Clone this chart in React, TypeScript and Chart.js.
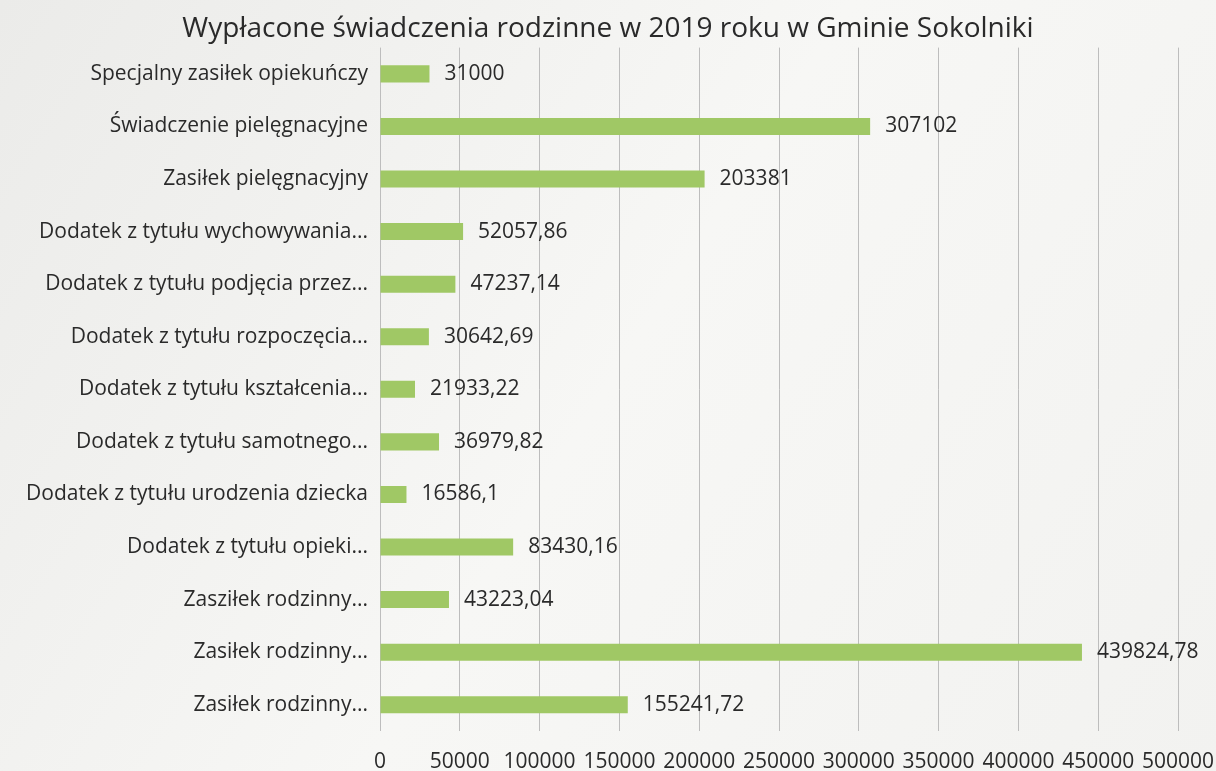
import React, { useEffect, useRef } from "react";
import { Chart, registerables } from "chart.js";

Chart.register(...registerables);

const categories = [
  "Specjalny zasiłek opiekuńczy",
  "Świadczenie pielęgnacyjne",
  "Zasiłek pielęgnacyjny",
  "Dodatek z tytułu wychowywania...",
  "Dodatek z tytułu podjęcia przez...",
  "Dodatek z tytułu rozpoczęcia...",
  "Dodatek z tytułu kształcenia...",
  "Dodatek z tytułu samotnego...",
  "Dodatek z tytułu urodzenia dziecka",
  "Dodatek z tytułu opieki...",
  "Zasziłek rodzinny...",
  "Zasiłek rodzinny...",
  "Zasiłek rodzinny...",
];

const values = [
  31000, 307102, 203381, 52057.86, 47237.14, 30642.69, 21933.22, 36979.82,
  16586.1, 83430.16, 43223.04, 439824.78, 155241.72,
];

const valueLabels = [
  "31000", "307102", "203381", "52057,86", "47237,14", "30642,69", "21933,22",
  "36979,82", "16586,1", "83430,16", "43223,04", "439824,78", "155241,72",
];

const tickValues = [0, 50000, 100000, 150000, 200000, 250000, 300000, 350000, 400000, 450000, 500000];

const titleText = "Wypłacone świadczenia rodzinne w 2019 roku w Gminie Sokolniki";

const FONT = "'Open Sans', Lato, sans-serif";

const labelPlugin = {
  id: "valueLabels",
  afterDatasetsDraw(chart: any) {
    const ctx = chart.ctx;
    const meta = chart.getDatasetMeta(0);
    ctx.save();
    ctx.font = `21px ${FONT}`;
    ctx.fillStyle = "#2a2a2a";
    ctx.textAlign = "left";
    ctx.textBaseline = "middle";
    meta.data.forEach((bar: any, i: number) => {
      ctx.fillText(valueLabels[i], bar.x + 15, bar.y);
    });
    ctx.restore();
  },
};

const bgPlugin = {
  id: "bg",
  beforeDraw(chart: any) {
    const ctx = chart.ctx;
    ctx.save();
    const g = ctx.createLinearGradient(0, 0, chart.width, chart.height);
    g.addColorStop(0, "#ebebe9");
    g.addColorStop(0.5, "#f7f7f5");
    g.addColorStop(1, "#f2f2f0");
    ctx.fillStyle = g;
    ctx.fillRect(0, 0, chart.width, chart.height);
    ctx.restore();
  },
};

export default function App() {
  const ref = useRef<HTMLCanvasElement>(null);
  useEffect(() => {
    document.body.style.margin = "0";
    const chart = new Chart(ref.current!, {
      type: "bar",
      data: {
        labels: categories,
        datasets: [
          {
            data: values,
            backgroundColor: "#a0c865",
            borderWidth: 0,
            barPercentage: 0.6,
            categoryPercentage: 0.54,
          },
        ],
      },
      options: {
        indexAxis: "y",
        animation: false,
        responsive: false,
        layout: { padding: { top: 0, right: 0, bottom: 0, left: 0 } },
        plugins: {
          legend: { display: false },
          tooltip: { enabled: false },
          title: {
            display: true,
            text: titleText,
            color: "#2a2a2a",
            font: { family: FONT, size: 28, weight: "normal", lineHeight: 1.2 },
            padding: { top: 12, bottom: 2 },
          },
        },
        scales: {
          x: {
            min: 0,
            max: 500000,
            afterBuildTicks: (s: any) => {
              s.ticks = tickValues.map((v) => ({ value: v }));
            },
            afterFit: (s: any) => {
              s.paddingRight = 38;
              s.height = 40;
            },
            grid: { color: "#bdbdbd", drawTicks: false },
            border: { display: false },
            ticks: {
              color: "#2a2a2a",
              font: { family: FONT, size: 21 },
              padding: 18,
              maxRotation: 0,
              autoSkip: false,
              callback: (v: any) => String(v),
            },
          },
          y: {
            afterFit: (s: any) => {
              s.width = 380;
            },
            grid: { display: false, drawTicks: false },
            border: { display: false },
            ticks: {
              color: "#2a2a2a",
              font: { family: FONT, size: 21 },
              padding: 12,
              autoSkip: false,
            },
          },
        },
      } as any,
      plugins: [bgPlugin, labelPlugin],
    });
    return () => chart.destroy();
  }, []);
  return <canvas ref={ref} width={1216} height={771} style={{ display: "block" }} />;
}
